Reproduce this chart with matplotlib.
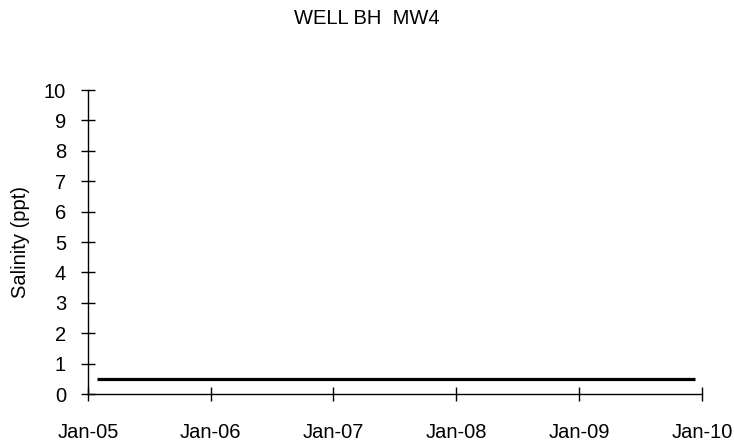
import numpy as np
import pandas as pd
import matplotlib
matplotlib.use("Agg")
import matplotlib.pyplot as plt
import matplotlib.dates as mdates

plt.rcParams['font.family'] = ['Liberation Sans', 'DejaVu Sans']

# sampling dates and salinity readings for the well
dates = pd.to_datetime(["2005-01-28", "2009-12-10"])
salinity = [0.5, 0.5]

title = "WELL BH  MW4"
ylabel = "Salinity (ppt)"
year_ticks = pd.to_datetime(["2005-01-01", "2006-01-01", "2007-01-01",
                             "2008-01-01", "2009-01-01", "2010-01-01"])
y_ticks = np.arange(0, 11, 1)

fig = plt.figure(figsize=(7.34, 4.44), dpi=100)
ax = fig.add_axes([88 / 734, 1 - 394 / 444, (702 - 88) / 734, (394 - 90) / 444])

ax.plot(dates, salinity, color="black", linewidth=2.3, solid_capstyle="butt")

ax.set_xlim(year_ticks[0], year_ticks[-1])
ax.set_ylim(0, 10)
ax.set_xticks(year_ticks)
ax.xaxis.set_major_formatter(mdates.DateFormatter("%b-%y"))
ax.set_yticks(y_ticks)

for s in ["top", "right"]:
    ax.spines[s].set_visible(False)
for s in ["left", "bottom"]:
    ax.spines[s].set_linewidth(1.0)
    ax.spines[s].set_color("black")

ax.tick_params(axis="both", direction="inout", length=9.5, width=1.0,
               labelsize=14.5, colors="black")
ax.tick_params(axis="y", pad=11)
ax.tick_params(axis="x", pad=16)

ax.set_ylabel(ylabel, fontsize=14.5, labelpad=10)
fig.text(0.5, 1 - 19 / 444, title, ha="center", va="center", fontsize=14.5)

fig.savefig("out.png", dpi=100)
